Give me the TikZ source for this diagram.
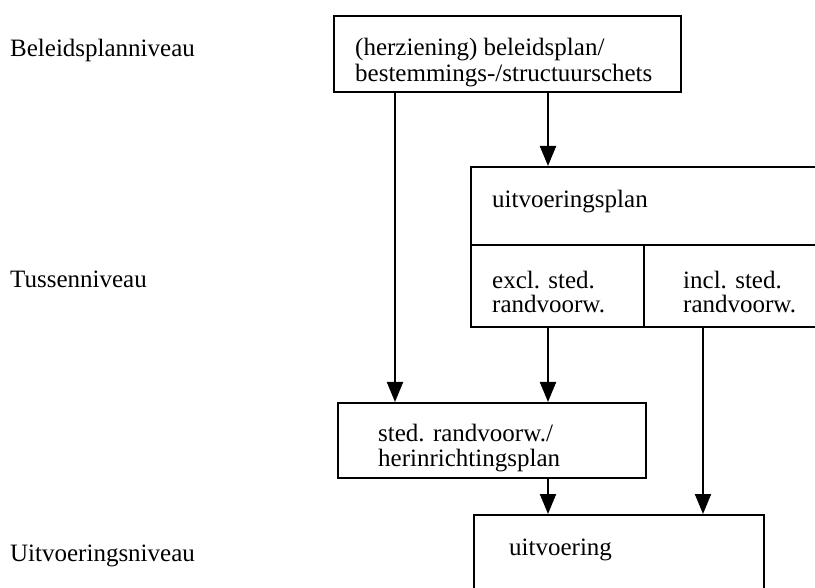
\documentclass[tikz,border=0pt]{standalone}
\usepackage{fontspec}
\setmainfont{Liberation Serif}
\usetikzlibrary{arrows.meta}
\begin{document}
\begin{tikzpicture}[x=1pt,y=-1pt,
  panel/.style={draw, line width=2.2pt, rectangle, anchor=north west, inner sep=0pt},
  lbl/.style={anchor=base west, inner sep=0pt, font=\fontsize{25}{30}\selectfont},
  flow/.style={line width=2pt, -{Triangle[length=20pt,width=16pt]}}]
\useasboundingbox (0,0) rectangle (815,588);
\clip (0,0) rectangle (815,588);

% level labels
\node[lbl] (lvA) at (10,57) {Beleidsplanniveau};
\node[lbl] (lvB) at (10,288) {Tussenniveau};
\node[lbl] (lvC) at (10,561) {Uitvoeringsniveau};

% boxes
\node[panel, minimum width=347pt, minimum height=76pt] (plan) at (333,15) {};
\node[panel, minimum width=360pt, minimum height=78pt] (uplan) at (470,166) {};
\node[panel, minimum width=173pt, minimum height=82pt] (excl) at (470,244) {};
\node[panel, minimum width=187pt, minimum height=82pt] (incl) at (643,244) {};
\node[panel, minimum width=308pt, minimum height=75pt] (redev) at (337,402) {};
\node[panel, minimum width=290pt, minimum height=110pt] (exec) at (473,514) {};

% box texts
\node[lbl] (planA) at (355,56) {(herziening) beleidsplan/};
\node[lbl] (planB) at (355,82) {bestemmings-/structuurschets};
\node[lbl] (uplanT) at (492,208) {uitvoeringsplan};
\node[lbl] (exclA) at (492,289) {excl. sted.};
\node[lbl] (exclB) at (492,313) {randvoorw.};
\node[lbl] (inclA) at (683,289) {incl. sted.};
\node[lbl] (inclB) at (683,313) {randvoorw.};
\node[lbl] (redevA) at (378,442) {sted. randvoorw./};
\node[lbl] (redevB) at (378,466) {herinrichtingsplan};
\node[lbl] (execT) at (509,555) {uitvoering};

% connector columns
\coordinate (xa) at (395,0);
\coordinate (xb) at (548,0);
\coordinate (xc) at (703,0);

% connectors
\draw[flow] (plan.south -| xa) -- (redev.north -| xa);
\draw[flow] (plan.south -| xb) -- (uplan.north -| xb);
\draw[flow] (excl.south -| xb) -- (redev.north -| xb);
\draw[flow] (redev.south -| xb) -- (exec.north -| xb);
\draw[flow] (incl.south -| xc) -- (exec.north -| xc);
\end{tikzpicture}
\end{document}
